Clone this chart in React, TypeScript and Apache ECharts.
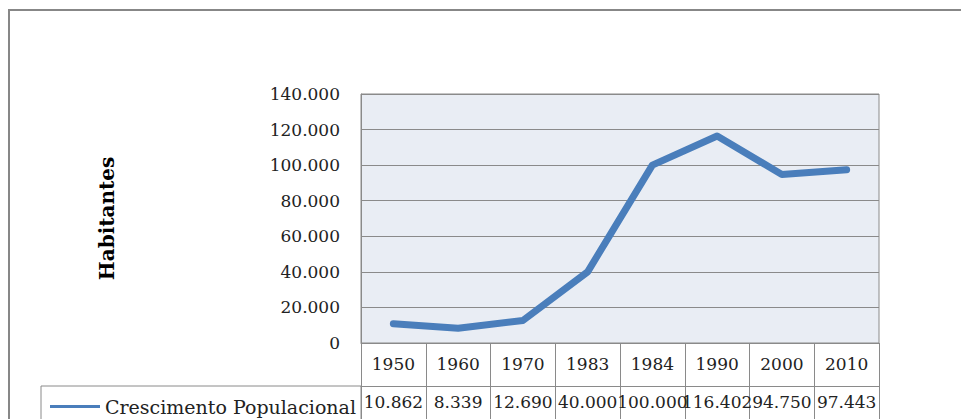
import React, { useEffect, useRef } from "react";
import * as echarts from "echarts";

const categories = ["1950", "1960", "1970", "1983", "1984", "1990", "2000", "2010"];
const populacao = [10862, 8339, 12690, 40000, 100000, 116402, 94750, 97443];
const seriesName = "Crescimento Populacional";
const yAxisName = "Habitantes";

const fmt = (v: number) => {
  if (v === 0) return "0";
  const s = Math.round(v).toString();
  return s.replace(/\B(?=(\d{3})+(?!\d))/g, ".");
};

const FONT = "DejaVu Serif";
const GRAY = "#8a8a8a";

export default function App() {
  const ref = useRef<HTMLDivElement>(null);
  useEffect(() => {
    if (!ref.current) return;
    const chart = echarts.init(ref.current, undefined, { renderer: "svg" });
    chart.setOption({
      animation: false,
      backgroundColor: "#ffffff",
      grid: {
        left: 361,
        top: 94,
        width: 518,
        height: 249,
        show: true,
        backgroundColor: "#e9edf4",
        borderColor: GRAY,
        borderWidth: 1,
      },
      legend: {
        show: true,
        left: 45,
        top: 392,
        icon: "rect",
        itemWidth: 50,
        itemHeight: 3,
        textStyle: { fontFamily: FONT, fontSize: 19, color: "#222" },
        data: [seriesName],
      },
      xAxis: [
        {
          type: "category",
          data: categories,
          position: "bottom",
          boundaryGap: true,
          axisLine: { show: true, lineStyle: { color: GRAY } },
          axisTick: { show: true, length: 43, lineStyle: { color: GRAY } },
          axisLabel: {
            interval: 0,
            margin: 12,
            fontFamily: FONT,
            fontSize: 17,
            color: "#222",
          },
        },
        {
          type: "category",
          data: categories,
          position: "bottom",
          offset: 43,
          boundaryGap: true,
          axisLine: { show: true, lineStyle: { color: GRAY } },
          axisTick: { show: true, length: 40, lineStyle: { color: GRAY } },
          axisLabel: {
            interval: 0,
            margin: 7,
            fontFamily: FONT,
            fontSize: 17,
            color: "#222",
            hideOverlap: false,
            formatter: (_v: string, i: number) => fmt(populacao[i]),
          },
        },
      ],
      yAxis: {
        type: "value",
        min: 0,
        max: 140000,
        interval: 20000,
        name: yAxisName,
        nameLocation: "middle",
        nameRotate: 90,
        nameGap: 244,
        nameTextStyle: { fontFamily: FONT, fontSize: 20, fontWeight: "bold", color: "#000" },
        axisLine: { show: true, lineStyle: { color: GRAY } },
        axisTick: { show: false },
        splitLine: { show: true, lineStyle: { color: GRAY, width: 1 } },
        axisLabel: {
          margin: 21,
          fontFamily: FONT,
          fontSize: 17,
          color: "#222",
          formatter: (v: number) => fmt(v),
        },
      },
      series: [
        {
          name: seriesName,
          type: "line",
          xAxisIndex: 0,
          data: populacao,
          showSymbol: false,
          symbol: "none",
          lineStyle: { color: "#4a7ebb", width: 7, cap: "round", join: "round" },
          itemStyle: { color: "#4a7ebb" },
        },
      ],
      graphic: [
        {
          type: "rect",
          shape: { x: 9, y: 10, width: 1100, height: 600 },
          style: { fill: "none", stroke: "#878787", lineWidth: 2 },
          silent: true,
          z: 0,
        },
        {
          type: "rect",
          shape: { x: 41, y: 386, width: 320, height: 60 },
          style: { fill: "none", stroke: GRAY, lineWidth: 1 },
          silent: true,
          z: 1,
        },
      ],
    });
    return () => chart.dispose();
  }, []);
  return (
    <div
      ref={ref}
      style={{ position: "fixed", left: 0, top: 0, width: 961, height: 419 }}
    />
  );
}
